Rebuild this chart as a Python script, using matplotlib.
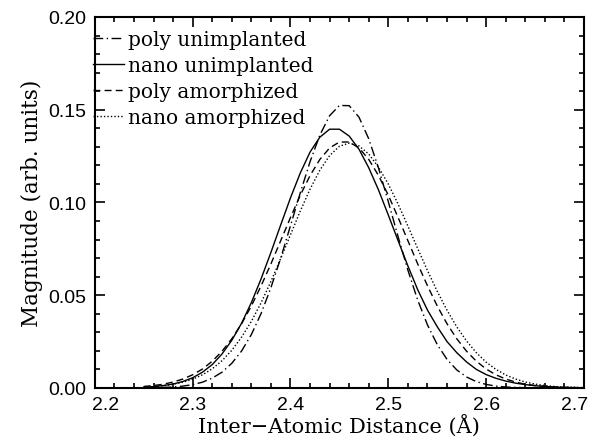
import matplotlib
matplotlib.use("Agg")
import matplotlib.pyplot as plt
from matplotlib.ticker import MultipleLocator, FuncFormatter, FormatStrFormatter

distance = [2.25, 2.26, 2.27, 2.28, 2.29, 2.30, 2.31, 2.32, 2.33, 2.34,
            2.35, 2.36, 2.37, 2.38, 2.39, 2.40, 2.41, 2.42, 2.43, 2.44,
            2.45, 2.46, 2.47, 2.48, 2.49, 2.50, 2.51, 2.52, 2.53, 2.54,
            2.55, 2.56, 2.57, 2.58, 2.59, 2.60, 2.61, 2.62, 2.63, 2.64,
            2.65, 2.66, 2.67, 2.68, 2.69, 2.70]

poly_unimplanted = [0.0001, 0.0001, 0.0003, 0.0005, 0.0010, 0.0018, 0.0031, 0.0053, 0.0085, 0.0133,
                    0.0199, 0.0288, 0.0402, 0.0541, 0.0700, 0.0875, 0.1052, 0.1220, 0.1363, 0.1468,
                    0.1523, 0.1522, 0.1460, 0.1343, 0.1185, 0.1004, 0.0815, 0.0635, 0.0474, 0.0340,
                    0.0234, 0.0154, 0.0097, 0.0059, 0.0034, 0.0019, 0.0010, 0.0005, 0.0003, 0.0001,
                    0.0, 0.0, 0.0, 0.0, 0.0, 0.0]

nano_unimplanted = [0.0004, 0.0007, 0.0013, 0.0021, 0.0035, 0.0055, 0.0085, 0.0126, 0.0183, 0.0257,
                    0.0349, 0.0460, 0.0589, 0.0731, 0.0879, 0.1025, 0.1159, 0.1272, 0.1352, 0.1395,
                    0.1395, 0.1358, 0.1287, 0.1187, 0.1067, 0.0932, 0.0794, 0.0658, 0.0530, 0.0420,
                    0.0330, 0.0250, 0.0190, 0.0140, 0.0100, 0.0072, 0.0052, 0.0037, 0.0026, 0.0018,
                    0.0012, 0.0008, 0.0005, 0.0003, 0.0002, 0.0001]

poly_amorphized = [0.0008, 0.0013, 0.0020, 0.0032, 0.0048, 0.0071, 0.0102, 0.0144, 0.0198, 0.0265,
                   0.0346, 0.0442, 0.0551, 0.0669, 0.0794, 0.0919, 0.1039, 0.1145, 0.1232, 0.1294,
                   0.1326, 0.1326, 0.1294, 0.1232, 0.1145, 0.1039, 0.0919, 0.0794, 0.0669, 0.0551,
                   0.0442, 0.0346, 0.0265, 0.0198, 0.0144, 0.0102, 0.0071, 0.0048, 0.0032, 0.0020,
                   0.0013, 0.0008, 0.0005, 0.0003, 0.0002, 0.0001]

nano_amorphized = [0.0004, 0.0007, 0.0012, 0.0020, 0.0031, 0.0047, 0.0071, 0.0103, 0.0147, 0.0203,
                   0.0274, 0.0359, 0.0460, 0.0574, 0.0698, 0.0826, 0.0954, 0.1072, 0.1174, 0.1253,
                   0.1303, 0.1320, 0.1305, 0.1261, 0.1190, 0.1099, 0.0991, 0.0873, 0.0752, 0.0633,
                   0.0521, 0.0419, 0.0329, 0.0253, 0.0190, 0.0139, 0.0100, 0.0070, 0.0048, 0.0032,
                   0.0021, 0.0013, 0.0008, 0.0005, 0.0003, 0.0002]

labels = ["poly unimplanted", "nano unimplanted", "poly amorphized", "nano amorphized"]
x_min, x_max = 2.2, 2.7

serif = ["DejaVu Serif"]
sans = ["Liberation Sans", "DejaVu Sans"]
TICK_FS = 14

fig = plt.figure(figsize=(5.89, 4.39), dpi=100)
ax = fig.add_axes([0.161, 0.114, 0.8305, 0.845])

ax.plot(distance, poly_unimplanted, color="black", lw=1.0, linestyle=(0, (7, 2.5, 1, 2.5)), label=labels[0])
ax.plot(distance, nano_unimplanted, color="black", lw=1.0, linestyle="-", label=labels[1])
ax.plot(distance, poly_amorphized, color="black", lw=1.0, linestyle=(0, (5, 3)), label=labels[2])
ax.plot(distance, nano_amorphized, color="black", lw=1.0, linestyle=(0, (1, 1.5)), label=labels[3])

ax.set_xlim(x_min, x_max)
ax.set_ylim(0.0, 0.2)
ax.xaxis.set_major_locator(MultipleLocator(0.1))
ax.xaxis.set_minor_locator(MultipleLocator(0.02))
ax.yaxis.set_major_locator(MultipleLocator(0.05))
ax.yaxis.set_minor_locator(MultipleLocator(0.01))


def xfmt(v, pos):
    if abs(v - x_min) < 1e-6 or abs(v - x_max) < 1e-6:
        return ""
    return "%.1f" % v


ax.xaxis.set_major_formatter(FuncFormatter(xfmt))
ax.yaxis.set_major_formatter(FormatStrFormatter("%.2f"))

ax.tick_params(which="both", direction="in", top=True, right=True, width=1.2)
ax.tick_params(which="major", length=7, labelsize=TICK_FS, pad=6)
ax.tick_params(which="minor", length=3.5)
for lab in ax.get_xticklabels() + ax.get_yticklabels():
    lab.set_family(sans)
for sp in ax.spines.values():
    sp.set_linewidth(1.5)

# end labels of the x axis are shifted inward to fit, as in the reference
ax.annotate("%.1f" % x_min, xy=(x_min, 0), xycoords=("data", "axes fraction"),
            xytext=(-2, -6), textcoords="offset points", ha="left", va="top",
            fontsize=TICK_FS, family=sans)
ax.annotate("%.1f" % x_max, xy=(x_max, 0), xycoords=("data", "axes fraction"),
            xytext=(3, -6), textcoords="offset points", ha="right", va="top",
            fontsize=TICK_FS, family=sans)

ax.set_xlabel("Inter\u2212Atomic Distance (\u00c5)", family=serif, fontsize=15, labelpad=0)
ax.set_ylabel("Magnitude (arb. units)", family=serif, fontsize=15.5, labelpad=4)

leg = ax.legend(loc="upper left", bbox_to_anchor=(-0.003, 0.964), frameon=False,
                prop={"family": serif, "size": 14.5},
                handlelength=1.5, handletextpad=0.22, borderaxespad=0.0,
                borderpad=0.0, labelspacing=0.34)

fig.savefig("out.png", dpi=100)
